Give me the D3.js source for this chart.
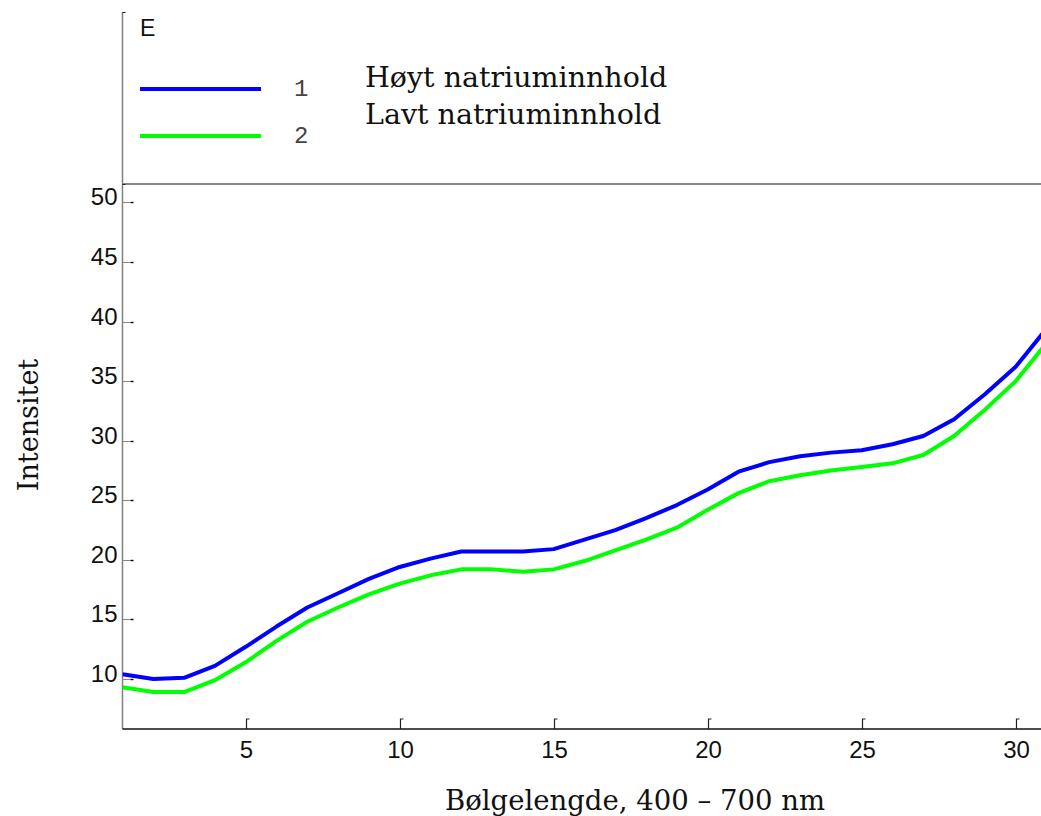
<!DOCTYPE html>
<html>
<head>
<meta charset="utf-8">
<script src="https://cdn.jsdelivr.net/npm/d3@7"></script>
<style>
  html, body { margin: 0; padding: 0; background: #fff; }
  svg { display: block; }
</style>
</head>
<body>
<svg id="chart" width="1041" height="816"></svg>
<script>
// ---- data ----
const xValues = d3.range(1, 32);
const hoyt = [10.4, 10.0, 10.1, 11.1, 12.7, 14.4, 16.0, 17.2, 18.4, 19.4, 20.1, 20.7, 20.7, 20.7, 20.9, 21.7, 22.5, 23.5, 24.6, 25.9, 27.4, 28.2, 28.7, 29.0, 29.2, 29.7, 30.4, 31.8, 33.9, 36.2, 39.4];
const lavt = [9.3, 8.9, 8.9, 9.9, 11.4, 13.2, 14.8, 16.0, 17.1, 18.0, 18.7, 19.2, 19.2, 19.0, 19.2, 19.9, 20.8, 21.7, 22.7, 24.2, 25.6, 26.6, 27.1, 27.5, 27.8, 28.1, 28.8, 30.4, 32.6, 35.0, 38.2];
const seriesNames = ["Høyt natriuminnhold", "Lavt natriuminnhold"];
const seriesIds = ["1", "2"];
const xTicks = [5, 10, 15, 20, 25, 30];
const yTicks = [10, 15, 20, 25, 30, 35, 40, 45, 50];
const panelLabel = "E";
const xLabel = "Bølgelengde, 400 – 700 nm";
const yLabel = "Intensitet";

// ---- layout ----
const svg = d3.select("#chart");
const left = 122.5, bottom = 729, plotTop = 184, axisTop = 12, right = 1041;
const x = d3.scaleLinear().domain([1, 31]).range([left, 1046.5]);
const y = d3.scaleLinear().domain([5.8, 51.55]).range([bottom, plotTop]);

const colors = ["#0000ff", "#00ff00"];
const serif = "'DejaVu Serif', serif";
const sans = "'Liberation Sans', Arial, sans-serif";

svg.append("defs").append("clipPath").attr("id", "clip")
  .append("rect").attr("x", left).attr("y", plotTop).attr("width", right - left).attr("height", bottom - plotTop);

// top horizontal line
svg.append("line").attr("x1", left).attr("x2", right).attr("y1", plotTop).attr("y2", plotTop)
  .attr("stroke", "#111").attr("stroke-width", 1.2);

// y axis line (gray)
svg.append("line").attr("x1", left).attr("x2", left).attr("y1", axisTop).attr("y2", bottom)
  .attr("stroke", "#808080").attr("stroke-width", 1.5);
[axisTop, plotTop].forEach(v => {
  svg.append("line").attr("x1", left).attr("x2", left + 3).attr("y1", v + 0.5).attr("y2", v + 0.5)
    .attr("stroke", "#222").attr("stroke-width", 1);
});

// x axis line
svg.append("line").attr("x1", left).attr("x2", right).attr("y1", bottom).attr("y2", bottom)
  .attr("stroke", "#111").attr("stroke-width", 1.5);

// y ticks
const yt = svg.append("g");
yTicks.forEach(t => {
  const py = Math.round(y(t)) + 0.5;
  yt.append("line").attr("x1", left).attr("x2", left + 8).attr("y1", py).attr("y2", py)
    .attr("stroke", "#888").attr("stroke-width", 1);
  yt.append("line").attr("x1", left + 8).attr("x2", left + 11).attr("y1", py).attr("y2", py)
    .attr("stroke", "#000").attr("stroke-width", 1.4);
  yt.append("text").attr("x", left - 5).attr("y", py - 4).attr("text-anchor", "end")
    .attr("dominant-baseline", "middle")
    .attr("font-family", sans).attr("font-size", 24).attr("fill", "#111").text(t);
});

// x ticks
const xt = svg.append("g");
xTicks.forEach(t => {
  const px = Math.round(x(t)) + 0.5;
  xt.append("path").attr("d", `M${px},${bottom} V${bottom - 10} H${px + 3}`)
    .attr("fill", "none").attr("stroke", "#222").attr("stroke-width", 1.2);
  xt.append("text").attr("x", px).attr("y", 758).attr("text-anchor", "middle")
    .attr("font-family", sans).attr("font-size", 24).attr("fill", "#111").text(t);
});

// lines
const line = d3.line().x((d, i) => x(xValues[i])).y(d => y(d));
[hoyt, lavt].forEach((s, i) => {
  svg.append("path").datum(s).attr("d", line).attr("clip-path", "url(#clip)")
    .attr("fill", "none").attr("stroke", colors[i]).attr("stroke-width", 4)
    .attr("stroke-linejoin", "round");
});

// legend
svg.append("text").attr("x", 140).attr("y", 36).attr("font-family", sans).attr("font-size", 23)
  .attr("fill", "#111").text(panelLabel);
const legY = [89, 136];
seriesIds.forEach((id, i) => {
  svg.append("line").attr("x1", 140).attr("x2", 261).attr("y1", legY[i]).attr("y2", legY[i])
    .attr("stroke", colors[i]).attr("stroke-width", 4);
  svg.append("text").attr("x", 294).attr("y", legY[i] + 7)
    .attr("font-family", "'Liberation Mono', monospace").attr("font-size", 24)
    .attr("fill", "#444").text(id);
});
const nameY = [87, 124];
seriesNames.forEach((n, i) => {
  svg.append("text").attr("x", 365).attr("y", nameY[i]).attr("font-family", serif)
    .attr("font-size", 28.5).attr("fill", "#111").text(n);
});

// axis labels
svg.append("text").attr("x", 635).attr("y", 810).attr("text-anchor", "middle")
  .attr("font-family", serif).attr("font-size", 27.5).attr("fill", "#111").text(xLabel);
svg.append("text").attr("transform", "translate(38,425) rotate(-90)").attr("text-anchor", "middle")
  .attr("font-family", serif).attr("font-size", 27).attr("fill", "#111").text(yLabel);
</script>
</body>
</html>
